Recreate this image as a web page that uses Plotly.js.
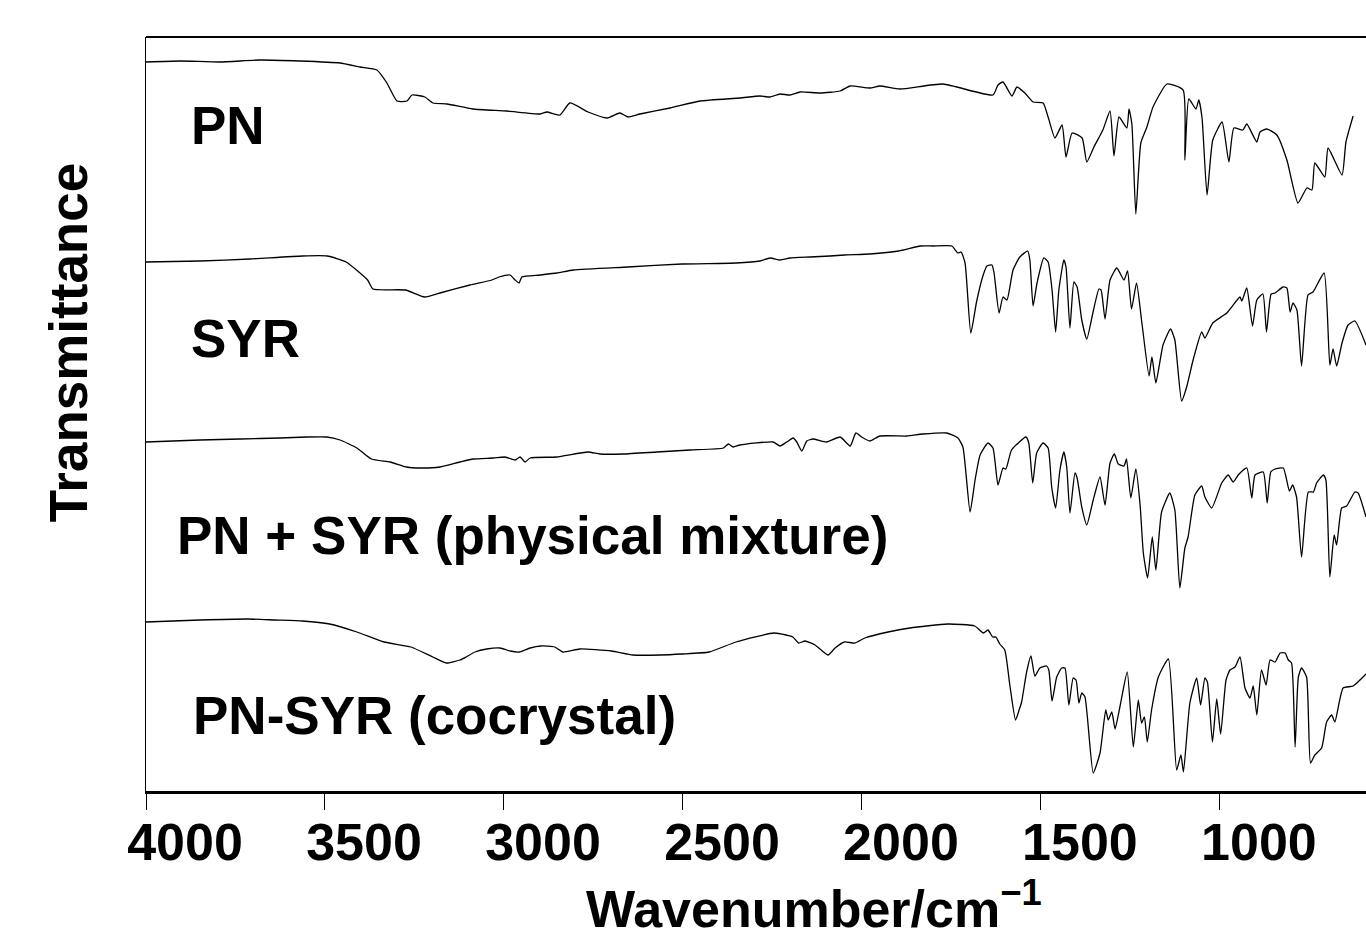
<!DOCTYPE html>
<html>
<head>
<meta charset="utf-8">
<script src="https://cdn.plot.ly/plotly-3.0.1.min.js"></script>
<style>html,body{margin:0;padding:0;background:#fff;overflow:hidden;}#chart{width:1366px;height:939px;}</style>
</head>
<body>
<div id="chart"></div>
<script>
// Series names
const seriesNames = ["PN", "SYR", "PN + SYR (physical mixture)", "PN-SYR (cocrystal)"];

// PN spectrum (wavenumber / cm-1, offset transmittance)
const pnWn = [4000,3905,3793,3682,3570,3458,3402,3355,3327,3299,3271,3257,3221,3198,3159,3087,2992,2899,2880,2844,2816,2765,2712,2676,2654,2620,2536,2452,2341,2285,2257,2229,2201,2173,2117,2061,2033,1978,1950,1894,1774,1634,1620,1606,1581,1567,1545,1522,1494,1480,1461,1441,1430,1413,1385,1372,1352,1327,1307,1296,1282,1260,1254,1246,1235,1221,1204,1187,1148,1103,1098,1087,1067,1059,1050,1036,1020,994,975,961,936,925,897,888,869,841,813,782,757,743,735,707,698,659,648,628,592];
const pnT = [72.9,73.0,72.9,73.1,73.0,72.8,72.4,72.1,70.8,69.0,69.0,69.6,69.4,68.8,68.7,68.2,68.0,67.7,67.9,67.6,68.8,67.9,67.3,67.8,67.4,67.7,68.3,69.0,69.3,69.5,69.4,69.7,69.6,69.9,69.8,70.0,70.5,70.3,70.5,70.2,70.7,69.6,70.6,70.9,69.5,70.4,69.8,68.9,68.8,67.4,65.3,66.6,63.4,65.8,65.3,62.9,64.4,66.1,68.0,63.5,67.4,66.3,68.2,66.7,57.7,64.8,66.4,68.4,70.7,70.1,63.1,69.2,68.2,69.1,67.3,59.6,65.1,66.9,62.9,66.3,66.1,66.7,64.9,65.9,66.2,65.6,63.1,58.8,60.3,60.1,62.8,61.4,64.3,61.6,64.9,67.5];

// SYR spectrum
const syrWn = [4000,3849,3710,3563,3494,3441,3381,3366,3275,3222,3179,3095,3034,3014,2983,2969,2958,2950,2899,2852,2806,2654,2503,2352,2285,2257,2229,2201,2145,2089,2049,1978,1897,1837,1802,1749,1732,1723,1712,1696,1680,1663,1651,1637,1631,1617,1606,1595,1578,1559,1537,1531,1522,1511,1492,1480,1469,1459,1450,1436,1430,1419,1408,1399,1386,1372,1355,1338,1332,1321,1307,1288,1268,1258,1247,1233,1218,1198,1190,1179,1159,1138,1126,1107,1093,1075,1051,1042,1020,981,944,939,925,909,897,880,870,857,846,824,813,804,796,785,772,754,740,709,693,684,674,659,642,623,592];
const syrT = [52.9,53.0,53.2,53.5,53.5,52.9,51.1,50.2,50.1,49.4,49.8,50.6,51.1,51.4,51.6,51.1,50.8,51.4,51.6,51.8,52.1,52.4,52.7,52.8,53.0,53.3,53.1,53.3,53.4,53.5,53.6,53.7,54.0,54.5,54.5,54.5,53.8,53.9,52.8,45.8,48.9,51.4,52.5,52.6,51.8,47.8,49.4,49.1,52.1,53.4,54.0,53.1,48.5,50.8,53.3,52.9,50.1,45.9,50.1,53.1,52.4,46.3,50.9,50.4,47.1,45.2,47.8,50.2,50.1,47.2,51.1,52.3,51.1,52.0,48.2,50.8,46.8,41.5,43.4,40.8,44.6,46.2,45.1,39.0,40.4,43.1,45.9,45.3,46.8,47.8,49.4,49.0,50.3,46.5,49.1,49.7,45.9,49.7,49.8,50.4,50.3,47.9,48.8,48.1,42.5,49.6,49.9,51.8,42.6,44.2,42.5,44.8,46.6,47.0,44.6];

// PN + SYR physical mixture spectrum
const mixWn = [4000,3849,3737,3626,3551,3495,3458,3411,3370,3318,3272,3235,3179,3123,3086,3030,2997,2969,2955,2941,2927,2853,2765,2732,2667,2573,2480,2387,2373,2360,2341,2248,2229,2210,2192,2182,2168,2154,2137,2099,2061,2033,2017,2001,1978,1950,1875,1830,1763,1732,1718,1698,1684,1670,1648,1634,1620,1606,1598,1582,1542,1534,1523,1512,1494,1480,1470,1459,1447,1436,1428,1419,1405,1399,1386,1372,1354,1335,1321,1307,1295,1284,1268,1261,1249,1235,1223,1214,1202,1189,1179,1163,1140,1126,1112,1098,1089,1070,1051,1042,1023,995,977,963,949,925,911,902,879,868,858,846,823,806,797,786,772,753,739,730,711,704,693,681,674,660,646,623,614,592];
const mixT = [34.9,35.1,35.2,35.3,35.4,35.4,35.1,34.3,33.2,32.9,32.4,32.3,32.4,32.9,33.2,33.3,33.4,33.1,33.4,32.9,33.3,33.4,33.9,33.7,33.7,33.9,34.1,34.3,34.7,34.4,34.6,34.9,34.5,34.9,35.3,34.9,34.0,35.0,35.2,34.9,35.4,34.5,35.8,35.4,35.0,35.5,35.5,35.7,35.8,35.3,34.4,27.9,31.1,33.6,34.8,34.3,30.6,32.3,32.2,34.1,35.4,34.8,30.8,33.8,34.8,34.3,30.4,28.3,32.1,33.9,32.4,27.8,31.8,31.3,28.4,26.6,29.1,31.4,28.6,32.8,33.7,32.7,32.5,33.2,29.3,32.2,28.6,23.8,21.3,25.4,22.1,27.9,29.8,28.1,20.3,24.3,25.4,29.6,30.5,29.4,28.3,30.8,31.6,30.9,31.6,32.3,29.3,31.6,31.9,28.8,31.9,32.2,32.3,30.0,30.6,29.4,23.4,29.9,29.9,30.8,31.6,31.1,21.4,25.6,24.6,28.3,28.5,29.9,29.8,27.4];

// PN-SYR cocrystal spectrum
const cocWn = [4000,3849,3714,3640,3563,3487,3411,3335,3260,3199,3161,3123,3106,3081,3048,3011,2983,2957,2927,2897,2858,2836,2788,2700,2640,2564,2503,2427,2352,2246,2212,2193,2177,2159,2131,2095,2075,2049,2020,1992,1927,1866,1761,1685,1661,1648,1635,1626,1615,1601,1587,1571,1561,1554,1540,1528,1517,1503,1484,1478,1469,1456,1442,1433,1422,1410,1402,1394,1386,1377,1354,1335,1319,1312,1302,1293,1279,1259,1242,1228,1219,1211,1203,1191,1172,1144,1121,1109,1102,1084,1065,1054,1042,1035,1021,1009,998,983,972,958,944,930,916,907,897,884,871,860,846,832,818,809,800,790,781,772,758,747,735,716,702,688,679,656,628,592];
const cocT = [16.9,17.1,17.2,17.1,17.0,16.7,15.9,14.9,14.4,13.4,12.8,13.1,13.4,13.9,14.2,14.3,14.0,13.9,14.3,14.5,14.4,13.9,14.2,14.0,13.6,13.6,13.7,13.9,14.9,15.8,15.6,15.4,14.8,15.0,14.6,13.6,14.3,14.9,14.8,15.3,15.9,16.3,16.7,16.5,15.8,16.1,15.4,15.4,14.7,14.1,10.6,7.1,8.1,8.9,11.9,13.5,11.5,12.3,12.5,12.1,9.0,11.4,12.3,12.3,8.6,11.3,11.1,8.8,9.8,9.4,1.8,3.8,8.1,7.1,7.9,6.2,8.5,11.9,4.4,9.1,6.8,7.4,4.9,8.1,11.4,13.2,2.1,3.6,1.9,8.8,11.3,8.6,11.3,10.9,4.9,9.2,5.7,11.1,12.1,12.4,13.4,10.3,9.3,10.5,7.6,12.1,10.6,13.1,12.9,13.8,13.8,13.1,12.8,4.4,11.4,12.3,11.4,2.8,3.6,4.3,6.9,7.6,6.9,10.3,10.5,11.7];

// Axis ticks
const xTickVals = [4000, 3500, 3000, 2500, 2000, 1500, 1000];
const xTickText = ["4000", "3500", "3000", "2500", "2000", "1500", "1000"];
const xTitle = "Wavenumber/cm<sup>\u22121</sup>";
const yTitle = "Transmittance";

const FONT = "Liberation Sans, Arial, Helvetica, sans-serif";
const lineStyle = {color: "#000", width: 1.3, shape: "spline", smoothing: 0.5};

const allWn = [pnWn, syrWn, mixWn, cocWn];
const allT = [pnT, syrT, mixT, cocT];
const traces = allWn.map((wn, i) => ({
  type: "scatter", mode: "lines", name: seriesNames[i],
  x: wn, y: allT[i], line: lineStyle, hoverinfo: "x+y+name"
}));

const labelPos = [
  {x: 0.0355, y: 0.8820},
  {x: 0.0355, y: 0.6005},
  {x: 0.0240, y: 0.3390},
  {x: 0.0365, y: 0.1000}
];
const annotations = seriesNames.map((n, i) => ({
  xref: "paper", yref: "paper", x: labelPos[i].x, y: labelPos[i].y,
  xanchor: "left", yanchor: "middle", showarrow: false, text: n,
  font: {family: FONT, size: 53, color: "#000", weight: "bold"}
}));
annotations.push({
  xref: "paper", yref: "paper", x: -0.0639, y: 0.594, textangle: -90,
  xanchor: "center", yanchor: "middle", showarrow: false, text: yTitle,
  font: {family: FONT, size: 53, color: "#000", weight: "bold"}
});
annotations.push({
  xref: "paper", yref: "paper", x: 0.5475, y: -0.1975,
  xanchor: "center", yanchor: "bottom", showarrow: false, text: xTitle,
  font: {family: FONT, size: 52, color: "#000", weight: "bold"}
});

const layout = {
  width: 1366, height: 939,
  margin: {l: 146, r: 0, t: 37, b: 148, pad: 0},
  paper_bgcolor: "#fff", plot_bgcolor: "#fff",
  showlegend: false,
  xaxis: {
    range: [4000, 592], autorange: false,
    tickmode: "array", tickvals: xTickVals, ticktext: xTickText,
    ticks: "outside", ticklen: 16, tickwidth: 1, tickcolor: "#000",
    ticklabelshift: -39, ticklabelstandoff: -12,
    showline: true, linecolor: "#000", linewidth: 2.5,
    showgrid: false, zeroline: false,
    tickfont: {family: FONT, size: 52, color: "#000", weight: "bold"}
  },
  yaxis: {
    range: [0, 75.4], autorange: false,
    showticklabels: false, ticks: "",
    showline: true, linecolor: "#000", linewidth: 1.5,
    showgrid: false, zeroline: false
  },
  shapes: [{type: "line", xref: "paper", yref: "paper", x0: 0, x1: 1, y0: 1, y1: 1,
            line: {color: "#000", width: 2}}],
  annotations: annotations
};

Plotly.newPlot("chart", traces, layout, {displayModeBar: false, staticPlot: true});
</script>
</body>
</html>
